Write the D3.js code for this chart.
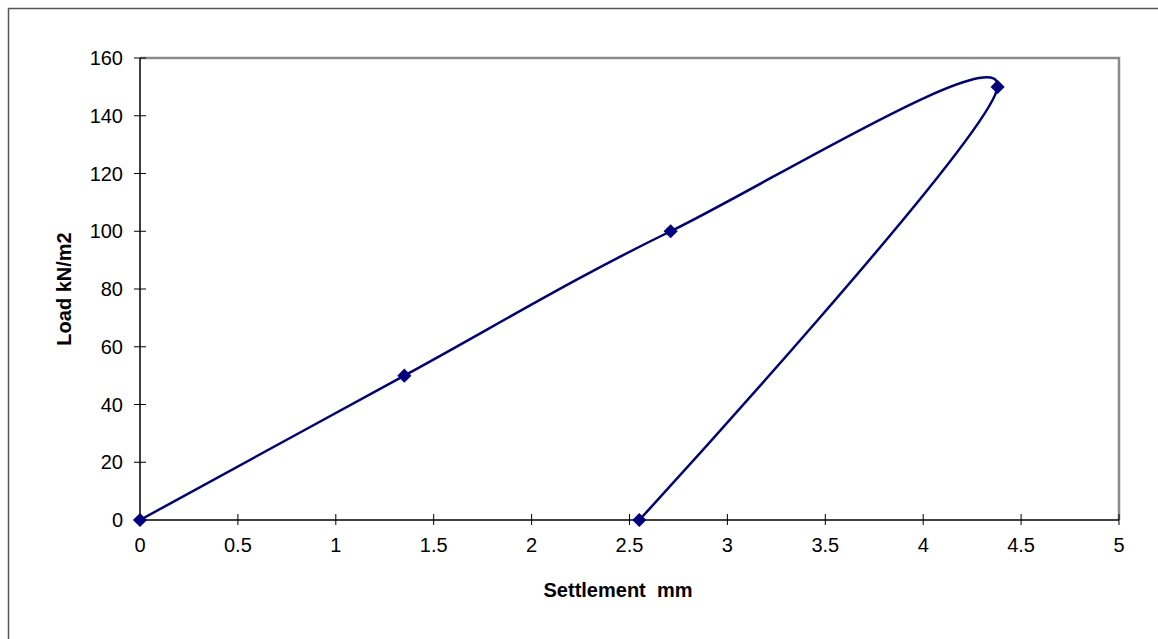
<!DOCTYPE html>
<html>
<head>
<meta charset="utf-8">
<script src="https://cdn.jsdelivr.net/npm/d3@7"></script>
<style>
  html, body { margin: 0; padding: 0; background: #fff; }
  svg { display: block; }
  text { font-family: "Liberation Sans", Arial, sans-serif; fill: #000; }
</style>
</head>
<body>
<svg id="chart" width="1158" height="639"></svg>
<script>
// Plate load test: loading then unloading path
const settlement = [0, 1.35, 2.71, 4.38, 2.55];
const load = [0, 50, 100, 150, 0];
const xTicks = [0, 0.5, 1, 1.5, 2, 2.5, 3, 3.5, 4, 4.5, 5];
const yTicks = [0, 20, 40, 60, 80, 100, 120, 140, 160];
const xTitle = "Settlement  mm";
const yTitle = "Load kN/m2";

const svg = d3.select("#chart");
const plot = { left: 140, right: 1119, top: 58, bottom: 520 };

const x = d3.scaleLinear().domain([0, 5]).range([plot.left, plot.right]);
const y = d3.scaleLinear().domain([0, 160]).range([plot.bottom, plot.top]);

// outer chart frame (runs off the right and bottom edges)
svg.append("rect")
  .attr("x", 8.5).attr("y", 8.5)
  .attr("width", 1170).attr("height", 650)
  .attr("fill", "#fff").attr("stroke", "#555").attr("stroke-width", 1.5);

// plot area border: grey top and right
svg.append("path")
  .attr("d", `M${plot.left},${plot.top}H${plot.right}V${plot.bottom}`)
  .attr("fill", "none").attr("stroke", "#8a8a8a").attr("stroke-width", 2.5);

// x axis
const xAxis = svg.append("g").attr("transform", `translate(0,${plot.bottom})`);
xAxis.append("line")
  .attr("x1", plot.left).attr("x2", plot.right)
  .attr("stroke", "#000").attr("stroke-width", 1.5);
xAxis.selectAll("line.tick").data(xTicks).join("line")
  .attr("class", "tick")
  .attr("x1", d => x(d)).attr("x2", d => x(d))
  .attr("y1", -6).attr("y2", 5)
  .attr("stroke", "#000").attr("stroke-width", 1);
xAxis.selectAll("text").data(xTicks).join("text")
  .attr("x", d => x(d)).attr("y", 32)
  .attr("text-anchor", "middle")
  .attr("font-size", 20)
  .text(d => d);

// y axis
const yAxis = svg.append("g").attr("transform", `translate(${plot.left},0)`);
yAxis.append("line")
  .attr("y1", plot.top).attr("y2", plot.bottom)
  .attr("stroke", "#000").attr("stroke-width", 1.5);
yAxis.selectAll("line.tick").data(yTicks).join("line")
  .attr("class", "tick")
  .attr("y1", d => y(d)).attr("y2", d => y(d))
  .attr("x1", -6).attr("x2", 6)
  .attr("stroke", "#000").attr("stroke-width", 1);
yAxis.selectAll("text").data(yTicks).join("text")
  .attr("x", -17).attr("y", d => y(d))
  .attr("dy", "0.36em")
  .attr("text-anchor", "end")
  .attr("font-size", 20)
  .text(d => d);

// axis titles
svg.append("text")
  .attr("x", 618).attr("y", 597)
  .attr("text-anchor", "middle")
  .attr("font-size", 20).attr("font-weight", "bold")
  .style("white-space", "pre")
  .text(xTitle);

svg.append("text")
  .attr("transform", `translate(71,${(plot.top + plot.bottom) / 2}) rotate(-90)`)
  .attr("text-anchor", "middle")
  .attr("font-size", 20).attr("font-weight", "bold")
  .text(yTitle);

// smoothed load-settlement curve
const pts = settlement.map((s, i) => [s, load[i]]);
const line = d3.line()
  .x(d => x(d[0])).y(d => y(d[1]))
  .curve(d3.curveCardinal.tension(0));

svg.append("path")
  .datum(pts)
  .attr("d", line)
  .attr("fill", "none")
  .attr("stroke", "#000080")
  .attr("stroke-width", 2.5);

// diamond markers (square turned 45 degrees)
const diamond = d3.symbol().type(d3.symbolSquare).size(100);
svg.selectAll("path.marker").data(pts).join("path")
  .attr("class", "marker")
  .attr("transform", d => `translate(${x(d[0])},${y(d[1])}) rotate(45)`)
  .attr("d", diamond)
  .attr("fill", "#000080");
</script>
</body>
</html>
